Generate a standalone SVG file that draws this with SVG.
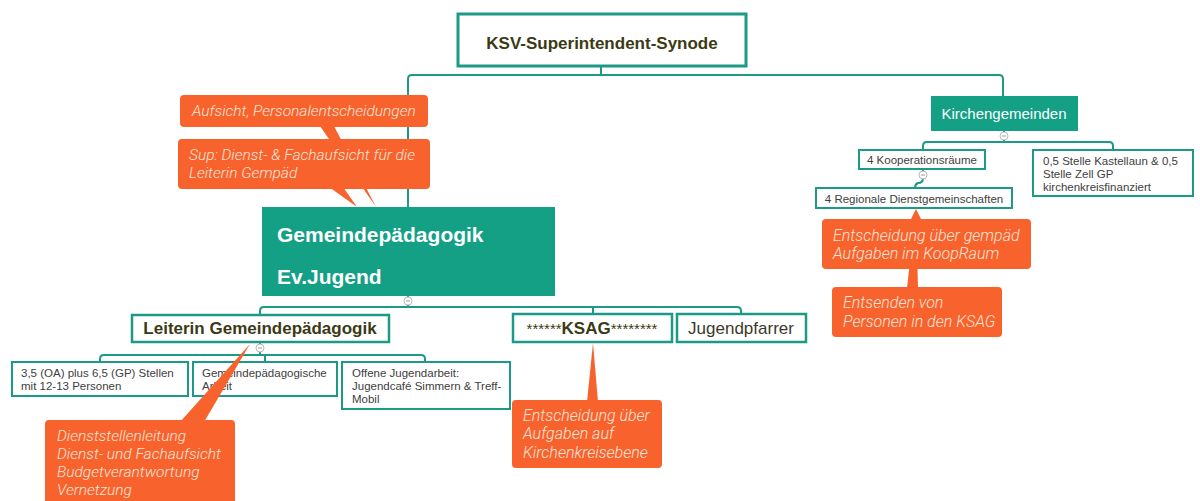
<svg xmlns="http://www.w3.org/2000/svg" width="1200" height="501" viewBox="0 0 1200 501">
<style>
.bx{fill:#fff;stroke:#1d9a86;stroke-width:2.5}
.bxs{fill:#fff;stroke:#1d9a86;stroke-width:2}
.fill{fill:#13a085}
.con{fill:none;stroke:#1d9a86;stroke-width:2}
.co{fill:#f7622d}
.ct{font-family:Roboto,"Liberation Sans",sans-serif;font-style:italic;font-weight:300;fill:#fde6da}
.tb{font-family:"Liberation Sans",Arial,sans-serif;font-weight:bold;fill:#3b3a14}
.tr{font-family:"Liberation Sans",Arial,sans-serif;fill:#3b3a2a}
.ts{font-family:"Liberation Sans",Arial,sans-serif;font-size:11.5px;fill:#404040}
.tw{font-family:"Liberation Sans",Arial,sans-serif;fill:#fff}
.cc{fill:#fff;stroke:#b9b9b9;stroke-width:1}
.cm{stroke:#999;stroke-width:1}
</style>
<rect width="1200" height="501" fill="#fff"/>
<g id="connectors">
<path class="con" d="M601,66 V75 M408,207 V79 Q408,75 412,75 H999 Q1003,75 1003,79 V96"/>
<path class="con" d="M1004,131 V142 M923,150 V146 Q923,142 927,142 H1109 Q1113,142 1113,146 V150"/>
<path class="con" d="M923,169 V178 Q923,183 918,183 Q915,184 915,188"/>
<path class="con" d="M408,296 V307 M260,315 V311 Q260,307 264,307 H737 Q741,307 741,311 V314 M593,307 V314"/>
<path class="con" d="M260,342 V355 M100,362 V359 Q100,355 104,355 H421 Q425,355 425,359 V362 M265,355 V362"/>
</g>
<g id="n-ksv">
<rect x="458" y="14" width="288" height="52" fill="#fff" stroke="#1d9a86" stroke-width="3"/>
<text class="tb" x="602" y="49" font-size="17" text-anchor="middle">KSV-Superintendent-Synode</text>
</g>
<g id="n-kirchengemeinden">
<rect class="fill" x="931" y="96" width="147" height="35"/>
<text class="tw" x="1004" y="119" font-size="15" text-anchor="middle">Kirchengemeinden</text>
</g>
<g id="n-koop">
<rect class="bxs" x="859" y="150" width="126" height="19"/>
<text class="ts" x="922" y="164" text-anchor="middle">4 Kooperationsräume</text>
</g>
<g id="n-stelle">
<rect class="bxs" x="1033" y="150" width="160" height="46"/>
<text class="ts" x="1043" y="165">0,5 Stelle Kastellaun &amp; 0,5</text>
<text class="ts" x="1043" y="178">Stelle Zell GP</text>
<text class="ts" x="1043" y="191">kirchenkreisfinanziert</text>
</g>
<g id="n-regional">
<rect class="bxs" x="816" y="188" width="196" height="20"/>
<text class="ts" x="914" y="203" text-anchor="middle">4 Regionale Dienstgemeinschaften</text>
</g>
<g id="n-gempaed">
<rect class="fill" x="262" y="207" width="293" height="89"/>
<text class="tw" x="277" y="242" font-size="21" font-weight="bold">Gemeindepädagogik</text>
<text class="tw" x="277" y="284" font-size="21" font-weight="bold">Ev.Jugend</text>
</g>
<g id="n-leiterin">
<rect class="bx" x="132" y="315" width="257" height="27"/>
<text class="tb" x="260" y="334" font-size="17" text-anchor="middle">Leiterin Gemeindepädagogik</text>
</g>
<g id="n-ksag">
<rect class="bx" x="513" y="314" width="159" height="28"/>
<text x="592" y="334" text-anchor="middle" font-family="Liberation Sans, Arial, sans-serif" fill="#3b3a14"><tspan font-size="15">******</tspan><tspan font-size="17" font-weight="bold">KSAG</tspan><tspan font-size="15">********</tspan></text>
</g>
<g id="n-jugendpfarrer">
<rect class="bx" x="677" y="314" width="129" height="28"/>
<text class="tr" x="741" y="334" font-size="17" text-anchor="middle">Jugendpfarrer</text>
</g>
<g id="n-stellen">
<rect class="bxs" x="12" y="362" width="176" height="34"/>
<text class="ts" x="21" y="377">3,5 (OA) plus 6,5 (GP) Stellen</text>
<text class="ts" x="21" y="390">mit 12-13 Personen</text>
</g>
<g id="n-arbeit">
<rect class="bxs" x="193" y="362" width="144" height="34"/>
<text class="ts" x="202" y="377">Gemeindepädagogische</text>
<text class="ts" x="202" y="390">Arbeit</text>
</g>
<g id="n-offene">
<rect class="bxs" x="342" y="362" width="168" height="47"/>
<text class="ts" x="352" y="377">Offene Jugendarbeit:</text>
<text class="ts" x="352" y="390">Jugendcafé Simmern &amp; Treff-</text>
<text class="ts" x="352" y="403">Mobil</text>
</g>
<g id="collapse">
<circle class="cc" cx="1004" cy="136" r="4"/><path class="cm" d="M1002,136 H1006"/>
<circle class="cc" cx="923" cy="175" r="4"/><path class="cm" d="M921,175 H925"/>
<circle class="cc" cx="408" cy="301" r="4"/><path class="cm" d="M406,301 H410"/>
<circle class="cc" cx="260" cy="348" r="4"/><path class="cm" d="M258,348 H262"/>
</g>
<g id="c-aufsicht">
<polygon class="co" points="320,126 334,126 376,207"/>
<rect class="co" x="180" y="95" width="248" height="32" rx="4"/>
<text class="ct" x="192" y="116" font-size="15.5">Aufsicht, Personalentscheidungen</text>
</g>
<g id="c-sup">
<polygon class="co" points="329,187 343,187 357,207"/>
<rect class="co" x="178" y="139" width="252" height="50" rx="4"/>
<text class="ct" x="189" y="160" font-size="15.5">Sup: Dienst- &amp; Fachaufsicht für die</text>
<text class="ct" x="189" y="178" font-size="15.5">Leiterin Gempäd</text>
</g>
<g id="c-entsenden">
<polygon class="co" points="907,288 918,288 916,209"/>
<rect class="co" x="832" y="287" width="170" height="50" rx="4"/>
<text class="ct" x="843" y="308" font-size="16">Entsenden von</text>
<text class="ct" x="843" y="327" font-size="16">Personen in den KSAG</text>
</g>
<g id="c-koopraum">
<polygon class="co" points="910,221 922,221 916,209"/>
<rect class="co" x="822" y="219" width="209" height="50" rx="4"/>
<text class="ct" x="833" y="241" font-size="16">Entscheidung über gempäd</text>
<text class="ct" x="833" y="259" font-size="16">Aufgaben im KoopRaum</text>
</g>
<g id="c-ksag">
<polygon class="co" points="587,402 598,402 593,343"/>
<rect class="co" x="512" y="400" width="150" height="68" rx="4"/>
<text class="ct" x="523" y="421" font-size="16">Entscheidung über</text>
<text class="ct" x="523" y="439" font-size="16">Aufgaben auf</text>
<text class="ct" x="523" y="458" font-size="16">Kirchenkreisebene</text>
</g>
<g id="c-leitung">
<polygon class="co" points="180,422 204,422 250,344"/>
<rect class="co" x="45" y="420" width="190" height="95" rx="4"/>
<text class="ct" x="57" y="441" font-size="15.5">Dienststellenleitung</text>
<text class="ct" x="57" y="459" font-size="15.5">Dienst- und Fachaufsicht</text>
<text class="ct" x="57" y="477" font-size="15.5">Budgetverantwortung</text>
<text class="ct" x="57" y="495" font-size="15.5">Vernetzung</text>
</g>
</svg>
